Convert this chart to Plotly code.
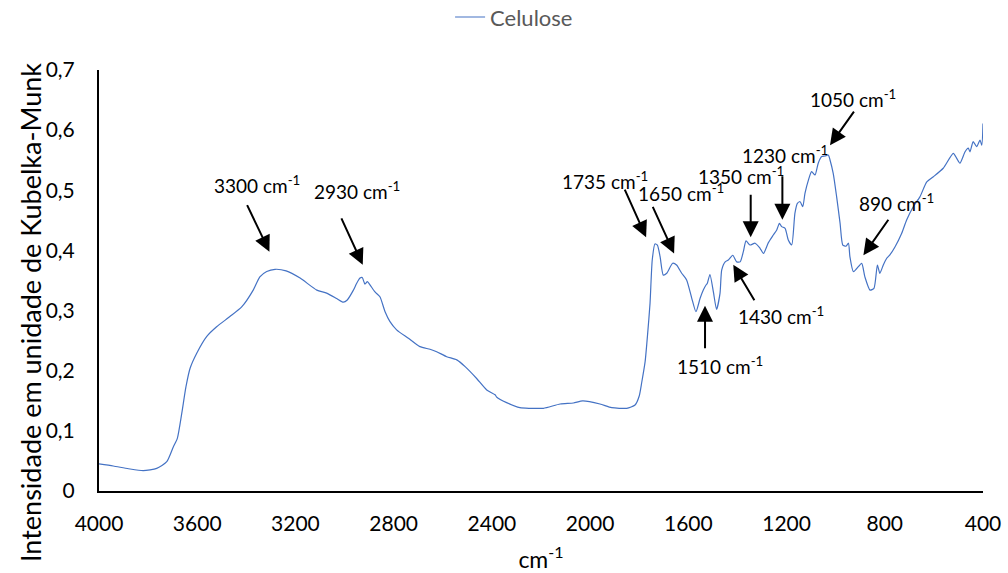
import plotly.graph_objects as go

# Kubelka-Munk spectrum of cellulose (wavenumber in cm-1, intensity)
wavenumber = [
    4000, 3942, 3880, 3820, 3765, 3724, 3697, 3681, 3663, 3646, 3629, 3602,
    3561, 3521, 3467, 3419, 3372, 3345, 3317, 3283, 3238, 3181, 3113, 3073,
    3032, 3005, 2989, 2964, 2951, 2937, 2928, 2917, 2907, 2896, 2876, 2856,
    2835, 2815, 2788, 2740, 2693, 2652, 2625, 2584, 2543, 2509, 2462, 2421,
    2387, 2380, 2340, 2286, 2245, 2190, 2122, 2068, 2030, 1960, 1912, 1851,
    1817, 1800, 1790, 1776, 1766, 1756, 1747, 1736, 1726, 1715, 1702, 1688,
    1664, 1648, 1627, 1607, 1586, 1569, 1552, 1539, 1528, 1523, 1512, 1498,
    1485, 1471, 1464, 1450, 1437, 1419, 1403, 1389, 1376, 1365, 1349, 1328,
    1308, 1294, 1274, 1254, 1240, 1229, 1220, 1206, 1193, 1179, 1166, 1156,
    1145, 1134, 1125, 1111, 1098, 1084, 1071, 1057, 1043, 1030, 1023, 1010,
    996, 982, 971, 958, 948, 942, 928, 914, 894, 881, 860, 844,
    830, 820, 806, 792, 780, 758, 731, 711, 684, 657, 629, 602,
    562, 521, 507, 494, 473, 460, 453, 440, 426, 412, 405, 400,
]
intensity = [
    0.045, 0.0416, 0.037, 0.0338, 0.0377, 0.0487, 0.0737, 0.0876, 0.129, 0.173, 0.204, 0.229,
    0.257, 0.273, 0.290, 0.306, 0.334, 0.356, 0.365, 0.3686, 0.366, 0.354, 0.334, 0.329,
    0.320, 0.314, 0.3176, 0.334, 0.345, 0.354, 0.355, 0.344, 0.348, 0.3425, 0.331, 0.323,
    0.298, 0.2815, 0.268, 0.254, 0.240, 0.2356, 0.2316, 0.2233, 0.218, 0.2067, 0.187, 0.168,
    0.160, 0.156, 0.147, 0.1385, 0.1375, 0.1375, 0.1447, 0.1463, 0.1497, 0.1447, 0.1386, 0.1375,
    0.143, 0.158, 0.180, 0.215, 0.260, 0.312, 0.384, 0.4107, 0.409, 0.3896, 0.359, 0.362,
    0.3786, 0.3758, 0.362, 0.351, 0.3204, 0.298, 0.3204, 0.334, 0.3425, 0.345, 0.360, 0.331,
    0.302, 0.3287, 0.3675, 0.381, 0.384, 0.392, 0.381, 0.381, 0.398, 0.416, 0.409, 0.412,
    0.4036, 0.395, 0.413, 0.4257, 0.434, 0.445, 0.4395, 0.4368, 0.4174, 0.409, 0.4617, 0.4784,
    0.481, 0.4727, 0.495, 0.517, 0.531, 0.5254, 0.545, 0.556, 0.557, 0.5587, 0.5504, 0.528,
    0.489, 0.445, 0.409, 0.407, 0.412, 0.3896, 0.3647, 0.370, 0.3786, 0.356, 0.334, 0.337,
    0.3758, 0.362, 0.3758, 0.387, 0.392, 0.406, 0.4285, 0.4506, 0.4727, 0.489, 0.514, 0.5226,
    0.5366, 0.5615, 0.553, 0.545, 0.564, 0.570, 0.564, 0.581, 0.5725, 0.5836, 0.575, 0.611,
]

x_ticks = [4000, 3600, 3200, 2800, 2400, 2000, 1600, 1200, 800, 400]
y_ticks = [0, 0.1, 0.2, 0.3, 0.4, 0.5, 0.6, 0.7]
y_tick_text = ["0", "0,1", "0,2", "0,3", "0,4", "0,5", "0,6", "0,7"]

# Band labels: text, arrow tip (wn, intensity), arrow tail offset (px), label centre (wn, intensity)
band_labels = ["3300", "2930", "1735", "1650", "1350", "1230", "1050", "890", "1430", "1510"]
tip_wn = [3306, 2926, 1772, 1658, 1346, 1217, 1023, 887, 1417, 1532]
tip_val = [0.398, 0.376, 0.422, 0.395, 0.422, 0.451, 0.575, 0.392, 0.376, 0.308]
tail_dx = [-23, -22, -22, -22, 0, 0, 25, 26, 22, 0]
tail_dy = [-48, -48, -49, -48, -44, -45, -35, -37, 37, 44]
text_wn = [3357, 2949, 1939, 1630, 1386, 1208, 929, 754, 1223, 1471]
text_val = [0.509, 0.499, 0.517, 0.4955, 0.525, 0.560, 0.652, 0.479, 0.291, 0.208]

FONT = "Lato"
W, H = 1008, 573
ML, MR, MT, MB = 99, 25, 70, 82

fig = go.Figure()
fig.add_trace(go.Scatter(
    x=wavenumber, y=intensity, mode="lines", name="Celulose",
    line=dict(color="#4472C4", width=1.2, shape="spline", smoothing=0.6),
))

annotations = []
for lab, tx, ty, dx, dy, lx, ly in zip(band_labels, tip_wn, tip_val, tail_dx, tail_dy, text_wn, text_val):
    annotations.append(dict(
        x=tx, y=ty, xref="x", yref="y", ax=dx, ay=dy, text="",
        showarrow=True, arrowhead=2, arrowsize=1.6, arrowwidth=2,
        arrowcolor="black", standoff=0, startstandoff=0,
    ))
    annotations.append(dict(
        x=lx, y=ly, xref="x", yref="y", text=f"{lab} cm<sup>-1</sup>",
        showarrow=False, font=dict(family=FONT, size=19, color="black"),
        xanchor="center", yanchor="middle",
    ))

# Vertical axis title, placed in pixel terms relative to the plot area
plot_w = W - ML - MR
plot_h = H - MT - MB
annotations.append(dict(
    text="Intensidade em unidade de Kubelka-Munk",
    xref="paper", yref="paper",
    x=(30 - ML) / plot_w, y=(H - MB - 313) / plot_h,
    xanchor="center", yanchor="middle", textangle=-90, showarrow=False,
    font=dict(family=FONT, size=27, color="black"),
))

fig.update_layout(
    width=W, height=H,
    margin=dict(l=ML, r=MR, t=MT, b=MB),
    paper_bgcolor="white", plot_bgcolor="white",
    font=dict(family=FONT, size=21, color="black"),
    showlegend=True,
    legend=dict(
        orientation="h", xref="container", yref="container",
        x=0.51, xanchor="center", y=0.97, yanchor="middle",
        font=dict(family=FONT, size=22, color="#595959"),
        bgcolor="rgba(0,0,0,0)",
    ),
    annotations=annotations,
    xaxis=dict(
        range=[4000, 400], tickvals=x_ticks, ticks="", showgrid=False,
        zeroline=False, showline=True, linecolor="black", linewidth=2,
        ticklabelstandoff=13, automargin=False,
        title=dict(text="cm<sup>-1</sup>", font=dict(family=FONT, size=23), standoff=18),
    ),
    yaxis=dict(
        range=[0, 0.7], tickvals=y_ticks, ticktext=y_tick_text, ticks="",
        showgrid=False, zeroline=False, showline=True, linecolor="black",
        linewidth=2, ticklabelstandoff=18, automargin=False,
    ),
)

fig.write_html("out.html")
